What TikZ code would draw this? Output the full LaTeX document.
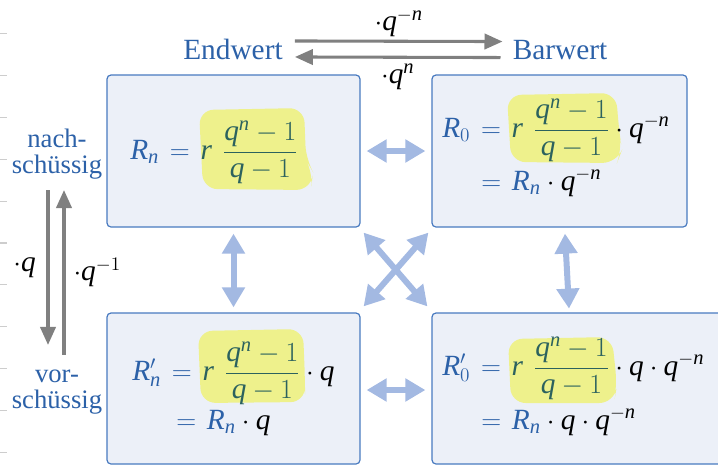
\documentclass[tikz,border=0pt]{standalone}
\usepackage{amsmath}
\usepackage{fontspec}
\setmainfont{Liberation Serif}
\DeclareSymbolFont{letters}{TU}{\rmdefault}{m}{it}
\DeclareSymbolFont{operators}{TU}{\rmdefault}{m}{n}
\usetikzlibrary{calc,arrows.meta}

\definecolor{mainblue}{RGB}{44,97,168}
\definecolor{boxborder}{RGB}{72,122,192}
\definecolor{boxfill}{RGB}{236,240,248}
\definecolor{hlyellow}{RGB}{238,241,140}
\definecolor{hlteal}{RGB}{44,98,94}
\definecolor{arrowgray}{RGB}{128,128,128}
\definecolor{pairblue}{RGB}{163,185,226}
\definecolor{tickgray}{RGB}{205,205,205}
\newcommand{\blackdot}{\mathbin{\color{black}\cdot}}
\thickmuskip=7mu plus 5mu

\begin{document}
\begin{tikzpicture}[x=0.75pt, y=-0.75pt, font=\fontsize{22}{22}\selectfont]
        % --- 1. Parameters ---
        \def\boxW{189.75pt}
        \def\boxH{114pt}
        \tikzset{
            formbox/.style={draw=boxborder, fill=boxfill, line width=0.9pt, rounded corners=3pt,
                minimum width=\boxW, minimum height=\boxH, inner sep=0pt},
            grayarrow/.style={-{Triangle[length=13.5pt, width=11.5pt]}, line width=2.3pt, arrowgray},
            pairarrow/.style={{Triangle[length=15pt, width=16.5pt]}-{Triangle[length=15pt, width=16.5pt]},
                line width=4.5pt, pairblue},
            sidelabel/.style={text=mainblue, align=center, inner sep=0pt, font=\fontsize{20}{19}\selectfont},
            factor/.style={text=black, inner sep=0pt},
            formula/.style={anchor=base west, inner sep=0pt, text=mainblue},
            highlight/.style={fill=hlyellow, rounded corners=11pt}
        }
        \clip (0,0) rectangle (718,465);

        % --- 2. Margin ticks ---
        \foreach \ty in {0,...,10}
            \draw[tickgray, line width=0.8pt] (0,{33.5+41.9*\ty}) -- (7,{33.5+41.9*\ty});

        % --- 3. Boxes ---
        \node[formbox] (EndNach) at (233.5,151) {};
        \node[formbox, minimum width=191.25pt] (BarNach) at (559.5,151) {};
        \node[formbox, minimum height=113.25pt] (EndVor) at (233.5,388.5) {};
        \node[formbox, minimum width=276pt, minimum height=113.25pt] (BarVor) at (616,388.5) {};

        % Highlighter marks
        \fill[highlight] (199,110) -- (304,108) -- (306,160) -- (313,172) -- (311,190) -- (203,189) -- cycle;
        \fill[highlight] (507,95) -- (616,93) -- (619,130) -- (622,150) -- (617,163) -- (511,162) -- cycle;
        \fill[highlight] (198,331) -- (303,329) -- (305,380) -- (305,402) -- (201,403) -- cycle;
        \fill[highlight] (508,339) -- (612,337) -- (617,385) -- (614,403) -- (511,403) -- cycle;

        % --- 4. Formulas ---
        \node[formula] (FormEN) at (130,159)
            {$R_n = {\color{hlteal} r\;\dfrac{q^n-1}{q-1}}$};
        \node[formula] (FormBN) at (442,137)
            {$R_0 = {\color{hlteal} r\;\dfrac{q^n-1}{q-1}}\blackdot{\color{black}q^{-n}}$};
        \node[formula] (FormBNb) at (481,190)
            {$= R_n \blackdot{\color{black}q^{-n}}$};
        \node[formula] (FormEV) at (132,380)
            {$R'_n = {\color{hlteal} r\;\dfrac{q^n-1}{q-1}}\blackdot{\color{black}q}$};
        \node[formula] (FormEVb) at (176,429)
            {$= R_n \blackdot{\color{black}q}$};
        \node[formula] (FormBV) at (442,375)
            {$R'_0 = {\color{hlteal} r\;\dfrac{q^n-1}{q-1}}\blackdot{\color{black}q\cdot q^{-n}}$};
        \node[formula] (FormBVb) at (481,429)
            {$= R_n \blackdot{\color{black}q\cdot q^{-n}}$};

        % --- 5. Headings ---
        \node[anchor=base, text=mainblue, inner sep=0pt] (Endwert) at (233,59) {Endwert};
        \node[anchor=base, text=mainblue, inner sep=0pt] (Barwert) at (560,59) {Barwert};
        \node[sidelabel] (Nach) at (57,154) {nach-\\schüssig};
        \node[sidelabel] (Vor) at (57,392) {vor-\\schüssig};

        % Gray conversion arrows
        \draw[grayarrow] ($(Endwert.east)+(12,-8)$) -- ($(Barwert.west)+(-10,-8)$)
            node[factor, midway, above=2.5pt] (LabQmn) {$\cdot q^{-n}$};
        \draw[grayarrow] ($(Barwert.west)+(-12,8)$) -- ($(Endwert.east)+(12,8)$)
            node[factor, midway, below=4pt] (LabQn) {$\cdot q^{n}$};
        \draw[grayarrow] ($(Nach.south)+(-9,11)$) -- ($(Vor.north)+(-9,-25)$)
            node[factor, midway, left=8pt] (LabQ) {$\cdot q$};
        \draw[grayarrow] ($(Vor.north)+(7,-15)$) -- ($(Nach.south)+(7,11)$)
            node[factor, midway, right=6pt] (LabQinv) {$\cdot q^{-1}$};

        % --- 6. Blue relation arrows ---
        \draw[pairarrow] ($(EndNach.east)+(6,0)$) -- ($(BarNach.west)+(-6,0)$);
        \draw[pairarrow] ($(EndVor.east)+(6,1.5)$) -- ($(BarVor.west)+(-6,1.5)$);
        \draw[pairarrow] ($(EndNach.south)+(0,6)$) -- ($(EndVor.north)+(0,-5)$);
        \draw[pairarrow] ($(BarNach.south)+(5.5,6)$) -- ($(BarNach.south)+(9.5,81)$);
        \draw[pairarrow] ($(EndNach.south east)+(3,5)$) -- ($(BarVor.north west)+(-4,-6)$);
        \draw[pairarrow] ($(BarNach.south west)+(-3,5)$) -- ($(EndVor.north east)+(3,-6)$);
    \end{tikzpicture}
\end{document}
